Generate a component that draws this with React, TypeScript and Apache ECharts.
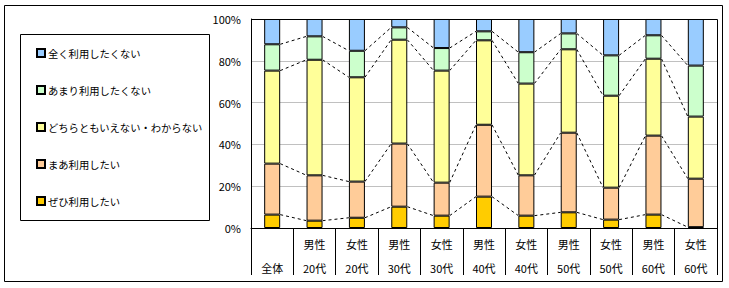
import React, { useEffect, useRef } from "react";
import * as echarts from "echarts";

const categories = [
  "全体",
  "男性\n20代",
  "女性\n20代",
  "男性\n30代",
  "女性\n30代",
  "男性\n40代",
  "女性\n40代",
  "男性\n50代",
  "女性\n50代",
  "男性\n60代",
  "女性\n60代",
];

const seriesNames = [
  "ぜひ利用したい",
  "まあ利用したい",
  "どちらともいえない・わからない",
  "あまり利用したくない",
  "全く利用したくない",
];

const zehi = [6.4, 3.5, 4.9, 10.2, 5.9, 15.0, 5.9, 7.5, 4.0, 6.4, 0.4];
const maa = [24.4, 21.7, 17.3, 30.2, 15.8, 34.4, 19.3, 38.1, 15.3, 37.8, 23.2];
const dochira = [44.5, 55.3, 49.9, 49.7, 53.6, 40.4, 43.9, 39.9, 44.0, 36.8, 29.7];
const amari = [12.6, 11.2, 12.7, 5.9, 10.8, 4.3, 15.0, 7.6, 19.3, 11.2, 24.4];
const mattaku = [12.1, 8.3, 15.2, 4.0, 13.9, 5.9, 15.9, 6.9, 17.4, 7.8, 22.3];

const seriesValues = [zehi, maa, dochira, amari, mattaku];
const seriesColors = ["#FFCC00", "#FFCC99", "#FFFF99", "#CCFFCC", "#99CCFF"];
const yTicks = [0, 20, 40, 60, 80, 100];

const FONT = "'Noto Sans CJK JP', 'Noto Sans', sans-serif";

export default function App() {
  const ref = useRef<HTMLDivElement>(null);

  useEffect(() => {
    if (!ref.current) return;
    const chart = echarts.init(ref.current, null, { renderer: "svg" });

    // cumulative boundaries (top of first 4 segments)
    const cum: number[][] = categories.map((_, i) => {
      const out: number[] = [];
      let s = 0;
      for (let k = 0; k < 4; k++) {
        s += seriesValues[k][i];
        out.push(s);
      }
      return out;
    });

    const barSeries = seriesNames.map((name, k) => ({
      name,
      type: "bar",
      stack: "total",
      barWidth: 16,
      data: seriesValues[k],
      itemStyle: {
        color: seriesColors[k],
        borderColor: "#000",
        borderWidth: 1,
      },
      z: 3,
    }));

    const halfBar = 8;
    const seriesLines = {
      type: "custom",
      silent: true,
      z: 2,
      data: categories.slice(0, -1).map((_, i) => [i]),
      encode: { x: 0 },
      renderItem: (params: any, api: any) => {
        const i = params.dataIndex;
        const children: any[] = [];
        for (let k = 0; k < 4; k++) {
          const p1 = api.coord([i, cum[i][k]]);
          const p2 = api.coord([i + 1, cum[i + 1][k]]);
          children.push({
            type: "line",
            shape: { x1: p1[0] + halfBar, y1: p1[1], x2: p2[0] - halfBar, y2: p2[1] },
            style: { stroke: "#000", lineWidth: 1, lineDash: [3, 3] },
          });
        }
        return { type: "group", children };
      },
    };

    const option: any = {
      animation: false,
      backgroundColor: "#fff",
      textStyle: { fontFamily: FONT },
      grid: {
        left: 251,
        top: 19,
        width: 466,
        height: 209,
        containLabel: false,
        outerBoundsMode: "none",
      },
      legend: {
        orient: "vertical",
        left: 36,
        top: 46,
        itemWidth: 8,
        itemHeight: 8,
        itemGap: 23,
        padding: 0,
        icon: "rect",
        data: [...seriesNames].reverse(),
        textStyle: { fontSize: 10.3, color: "#000", fontFamily: FONT, lineHeight: 14, padding: [0, 0, 0, -2] },
        selectedMode: false,
      },
      xAxis: {
        type: "category",
        data: categories,
        boundaryGap: true,
        axisLine: { lineStyle: { color: "#000", width: 1 } },
        axisTick: {
          show: true,
          interval: 0,
          length: 47,
          lineStyle: { color: "#000", width: 1 },
        },
        axisLabel: {
          interval: 0,
          margin: 4,
          fontSize: 11,
          lineHeight: 24,
          color: "#000",
          fontFamily: FONT,
          formatter: (v: string) => (v.indexOf("\n") >= 0 ? v : " \n" + v),
        },
      },
      yAxis: {
        type: "value",
        min: 0,
        max: 100,
        interval: 20,
        axisLine: { show: true, lineStyle: { color: "#000", width: 1 } },
        axisTick: { show: false },
        splitLine: { show: true, lineStyle: { color: "#C0C0C0", width: 1 } },
        axisLabel: {
          margin: 10,
          fontSize: 11,
          color: "#000",
          fontFamily: FONT,
          formatter: (v: number) => (yTicks.indexOf(v) >= 0 ? v + "%" : ""),
        },
      },
      graphic: [
        {
          type: "rect",
          z: 100,
          silent: true,
          shape: { x: 4.5, y: 5.5, width: 718, height: 276 },
          style: { fill: "none", stroke: "#000", lineWidth: 1 },
        },
        {
          type: "rect",
          z: 100,
          silent: true,
          shape: { x: 20.5, y: 34.5, width: 189, height: 186 },
          style: { fill: "none", stroke: "#000", lineWidth: 1 },
        },
        {
          type: "rect",
          z: 100,
          silent: true,
          shape: { x: 251.5, y: 19.5, width: 466, height: 209 },
          style: { fill: "none", stroke: "#000", lineWidth: 1 },
        },
      ],
      series: [...barSeries, seriesLines],
    };

    chart.setOption(option);
    return () => chart.dispose();
  }, []);

  return (
    <div
      ref={ref}
      style={{ position: "fixed", left: 0, top: 0, width: 729, height: 288 }}
    />
  );
}
